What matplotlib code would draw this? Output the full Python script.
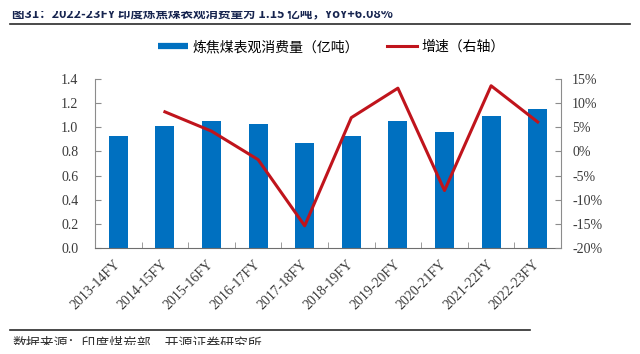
import numpy as np
import matplotlib
matplotlib.use("Agg")
import matplotlib.pyplot as plt
from matplotlib.lines import Line2D
from matplotlib.patches import Rectangle
from matplotlib.ticker import FuncFormatter, MultipleLocator, FixedLocator

plt.rcParams['font.family'] = ['Noto Sans CJK SC', 'DejaVu Sans']

categories = ["2013-14FY", "2014-15FY", "2015-16FY", "2016-17FY", "2017-18FY",
              "2018-19FY", "2019-20FY", "2020-21FY", "2021-22FY", "2022-23FY"]
consumption = [0.93, 1.01, 1.05, 1.03, 0.87, 0.93, 1.05, 0.96, 1.09, 1.15]
growth = [np.nan, 8.2, 4.2, -1.7, -15.4, 7.0, 13.1, -8.1, 13.6, 6.1]

bar_label = "炼焦煤表观消费量（亿吨）"
line_label = "增速（右轴）"
title = "图31：2022-23FY 印度炼焦煤表观消费量为 1.15 亿吨，YoY+6.08%"
source = "数据来源：印度煤炭部、开源证券研究所"

W, H = 640, 354
fig = plt.figure(figsize=(W / 100, H / 100), dpi=100)

def fx(px):
    return px / W

def fy(py):
    return 1 - py / H

ax = fig.add_axes([fx(95), fy(248), fx(561) - fx(95), fy(79) - fy(248)])
x = np.arange(len(categories))
bar_color = '#0070C0'
line_color = '#C0141C'
spine_color = '#8C8C8C'
tick_color = '#3A3A3A'
serif = ['Liberation Serif', 'DejaVu Serif']

ax.bar(x, consumption, width=0.41, color=bar_color, zorder=2)
ax.set_xlim(-0.5, len(categories) - 0.5)
ax.set_ylim(0, 1.4)
ax.yaxis.set_major_locator(MultipleLocator(0.2))
ax.yaxis.set_major_formatter(FuncFormatter(lambda v, p: f"{v:.1f}"))
ax.set_xticks(x)
ax.set_xticklabels(categories, rotation=45, ha='right', va='center',
                   rotation_mode='anchor', fontsize=10, family=serif, color=tick_color)
ax.xaxis.set_minor_locator(FixedLocator(np.arange(0.5, len(categories) - 0.5, 1)))
ax.tick_params(axis='x', which='major', length=0, pad=10.5)
ax.tick_params(axis='x', which='minor', direction='in', length=4, color=spine_color)
ax.tick_params(axis='y', direction='in', length=4, color=spine_color, labelsize=10,
               labelcolor=tick_color, pad=12)
for lab in ax.get_yticklabels():
    lab.set_family(serif)
for s in ['top', 'right']:
    ax.spines[s].set_visible(False)
for s in ['left', 'bottom']:
    ax.spines[s].set_color(spine_color)
ax.spines['bottom'].set_color('#6E6E6E')

ax2 = ax.twinx()
ax2.plot(x, growth, color=line_color, lw=2.2, zorder=3)
ax2.set_ylim(-20, 15)
ax2.yaxis.set_major_locator(MultipleLocator(5))
ax2.yaxis.set_major_formatter(FuncFormatter(lambda v, p: f"{int(round(v))}%"))
ax2.tick_params(axis='y', direction='in', length=4, color=spine_color, labelsize=10,
                labelcolor=tick_color, pad=8)
for lab in ax2.get_yticklabels():
    lab.set_family(serif)
for s in ['top', 'left', 'bottom']:
    ax2.spines[s].set_visible(False)
ax2.spines['right'].set_color(spine_color)

handles = [Line2D([0], [0], color=bar_color, lw=4.5, solid_capstyle='butt'),
           Line2D([0], [0], color=line_color, lw=2.2)]
fig.legend(handles, [bar_label, line_label], loc='center',
           bbox_to_anchor=(fx(331), fy(47)), ncol=2, frameon=False,
           fontsize=10, handlelength=2.2, handletextpad=0.3, columnspacing=2.0)

# title (top partly cut as in the reference)
fig.text(fx(12), fy(17), title, fontsize=9, fontweight='bold', color='#16244F',
         ha='left', va='baseline')
fig.patches.append(Rectangle((0, fy(11)), 1, 1 - fy(11), transform=fig.transFigure,
                             facecolor='white', edgecolor='none', zorder=10))
fig.add_artist(Line2D([fx(10), fx(630)], [fy(24), fy(24)], color='#2A2A2A', lw=1.2,
                      transform=fig.transFigure))

# source line (bottom partly cut)
fig.add_artist(Line2D([fx(10), fx(530)], [fy(330), fy(330)], color='#2A2A2A', lw=1.2,
                      transform=fig.transFigure))
fig.text(fx(12), fy(348), source, fontsize=10, color='#333333', ha='left', va='baseline')
fig.patches.append(Rectangle((0, 0), 1, fy(345), transform=fig.transFigure,
                             facecolor='white', edgecolor='none', zorder=10))

fig.savefig("out.png", dpi=100)
